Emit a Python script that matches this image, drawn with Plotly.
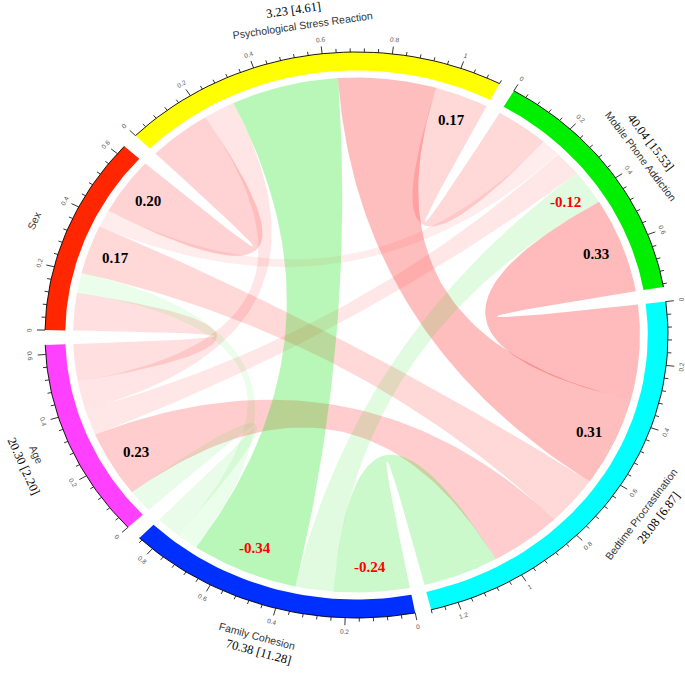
import numpy as np
import plotly.graph_objects as go

# ---------------- data ----------------
sector_keys = ["PSR", "MPA", "BP", "FC", "Age", "Sex"]
sector_names = ["Psychological Stress Reaction", "Mobile Phone Addiction",
                "Bedtime Procrastination", "Family Cohesion", "Age", "Sex"]
sector_stats = ["3.23 [4.61]", "40.04 [15.53]", "28.08 [6.87]", "70.38 [11.28]", "20.30 [2.20]", ""]
sector_colors = ["#ffff00", "#00ee00", "#00ffff", "#0030ff", "#ff40ff", "#ff2600"]

link_from = ["Sex", "Sex", "Sex", "Sex", "Sex", "Age", "Age", "Age", "Age",
             "PSR", "PSR", "PSR", "MPA", "MPA", "BP"]
link_to = ["Age", "PSR", "MPA", "BP", "FC", "PSR", "MPA", "BP", "FC",
           "MPA", "BP", "FC", "BP", "FC", "FC"]
link_r = [0.13, 0.20, 0.06, 0.17, -0.07, 0.10, 0.09, 0.23, -0.08,
          0.17, 0.31, -0.34, 0.33, -0.12, -0.24]
label_at = ["", "Sex", "", "Sex", "", "", "", "Age", "",
            "PSR", "BP", "FC", "MPA", "MPA", "FC"]

# ---------------- geometry ----------------
W, H = 685, 674
CX, CY, RX, RY = 356.5, 335.0, 311.5, 283.0
START = 135.2
GAP = 3.0
R_OUT, R_IN, R_LINK = 1.0, 0.935, 0.91

n = len(sector_keys)
idx = {k: i for i, k in enumerate(sector_keys)}
totals = [0.0] * n
for a, b, r in zip(link_from, link_to, link_r):
    totals[idx[a]] += abs(r)
    totals[idx[b]] += abs(r)
D = (360.0 - n * GAP) / sum(totals)
starts, ends = [], []
ang = START
for i in range(n):
    starts.append(ang)
    ends.append(ang - totals[i] * D)
    ang -= totals[i] * D + GAP

# link slots within each sector
slots = {}
for i in range(n):
    pos = starts[i]
    for k in range(1, n):
        j = (i - k) % n
        for li, (a, b, r) in enumerate(zip(link_from, link_to, link_r)):
            if {a, b} == {sector_keys[i], sector_keys[j]}:
                w = abs(r) * D
                slots[(li, i)] = (pos, pos - w)
                pos -= w


def pt(deg, rad):
    t = np.radians(deg)
    return rad * np.cos(t), rad * np.sin(t)


def arc(a1, a2, rad, m=40):
    t = np.radians(np.linspace(a1, a2, m))
    return list(rad * np.cos(t)), list(rad * np.sin(t))


def bez(a1, a2, rad, m=60):
    x0, y0 = pt(a1, rad)
    x2, y2 = pt(a2, rad)
    t = np.linspace(0, 1, m)
    xs = (1 - t) ** 2 * x0 + t ** 2 * x2
    ys = (1 - t) ** 2 * y0 + t ** 2 * y2
    return list(xs), list(ys)


def text_rot(deg):
    t = np.radians(deg)
    a = np.degrees(np.arctan2(RY * np.cos(t), RX * np.sin(t)))
    while a > 90:
        a -= 180
    while a <= -90:
        a += 180
    return a


fig = go.Figure()

# ---------------- links ----------------
for li, (a, b, r) in enumerate(zip(link_from, link_to, link_r)):
    i, j = idx[a], idx[b]
    a1, a2 = slots[(li, i)]
    b1, b2 = slots[(li, j)]
    xs, ys = [], []
    for seg in (arc(a1, a2, R_LINK), bez(a2, b1, R_LINK),
                arc(b1, b2, R_LINK), bez(b2, a1, R_LINK)):
        xs += seg[0]
        ys += seg[1]
    alpha = 0.03 + 0.72 * abs(r)
    col = f"rgba(255,0,0,{alpha:.3f})" if r > 0 else f"rgba(0,225,0,{alpha:.3f})"
    fig.add_trace(go.Scatter(x=xs, y=ys, mode="lines", fill="toself",
                             fillcolor=col, line=dict(width=0),
                             hoverinfo="skip", showlegend=False))

# ---------------- sector tracks ----------------
for i in range(n):
    xo, yo = arc(starts[i], ends[i], R_OUT)
    xi, yi = arc(ends[i], starts[i], R_IN)
    fig.add_trace(go.Scatter(x=xo + xi + [xo[0]], y=yo + yi + [yo[0]],
                             mode="lines", fill="toself",
                             fillcolor=sector_colors[i], line=dict(width=0),
                             hoverinfo="skip", showlegend=False))
    fig.add_trace(go.Scatter(x=xo, y=yo, mode="lines",
                             line=dict(color="black", width=0.9),
                             hoverinfo="skip", showlegend=False))

# ---------------- ticks ----------------
tx, ty = [], []
annotations = []
for i in range(n):
    steps = int(np.floor(totals[i] / 0.04 + 1e-6))
    for s in range(steps + 1):
        v = s * 0.04
        deg = starts[i] - v * D
        major = (s % 5 == 0)
        L = 0.026 if major else 0.013
        x0, y0 = pt(deg, R_OUT)
        x1, y1 = pt(deg, R_OUT + L)
        tx += [x0, x1, None]
        ty += [y0, y1, None]
        if major:
            lx, ly = pt(deg, 1.05)
            annotations.append(dict(x=lx, y=ly, text=f"{round(v, 1):g}",
                                    showarrow=False, textangle=text_rot(deg),
                                    font=dict(size=6.5, color="#555555",
                                              family="Liberation Sans"),
                                    xanchor="center", yanchor="middle"))
fig.add_trace(go.Scatter(x=tx, y=ty, mode="lines",
                         line=dict(color="black", width=0.8),
                         hoverinfo="skip", showlegend=False))

# ---------------- sector labels ----------------
for i in range(n):
    mid = (starts[i] + ends[i]) / 2
    rot = text_rot(mid)
    nx, ny = pt(mid, 1.11)
    annotations.append(dict(x=nx, y=ny, text=sector_names[i], showarrow=False,
                            textangle=rot,
                            font=dict(size=10.5, color="#333333",
                                      family="Liberation Sans"),
                            xanchor="center", yanchor="middle"))
    if sector_stats[i]:
        sx, sy = pt(mid + 1.0, 1.165)
        annotations.append(dict(x=sx, y=sy, text=sector_stats[i], showarrow=False,
                                textangle=rot,
                                font=dict(size=12.5, color="black",
                                          family="Liberation Serif"),
                                xanchor="center", yanchor="middle"))

# ---------------- link value labels ----------------
for li, (a, b, r) in enumerate(zip(link_from, link_to, link_r)):
    if not label_at[li]:
        continue
    s1, s2 = slots[(li, idx[label_at[li]])]
    lx, ly = pt((s1 + s2) / 2, 0.82)
    annotations.append(dict(x=lx, y=ly, text=f"<b>{r:.2f}</b>", showarrow=False,
                            font=dict(size=15, color="black" if r > 0 else "#ff0000",
                                      family="Liberation Serif"),
                            xanchor="center", yanchor="middle"))

fig.update_layout(
    width=W, height=H,
    margin=dict(l=0, r=0, t=0, b=0),
    paper_bgcolor="white", plot_bgcolor="white",
    xaxis=dict(range=[-CX / RX, (W - CX) / RX], visible=False, fixedrange=True),
    yaxis=dict(range=[(CY - H) / RY, CY / RY], visible=False, fixedrange=True),
    annotations=annotations,
    showlegend=False,
)

fig.write_html("out.html", config={"displayModeBar": False},
               post_script="document.body.style.margin='0';")
